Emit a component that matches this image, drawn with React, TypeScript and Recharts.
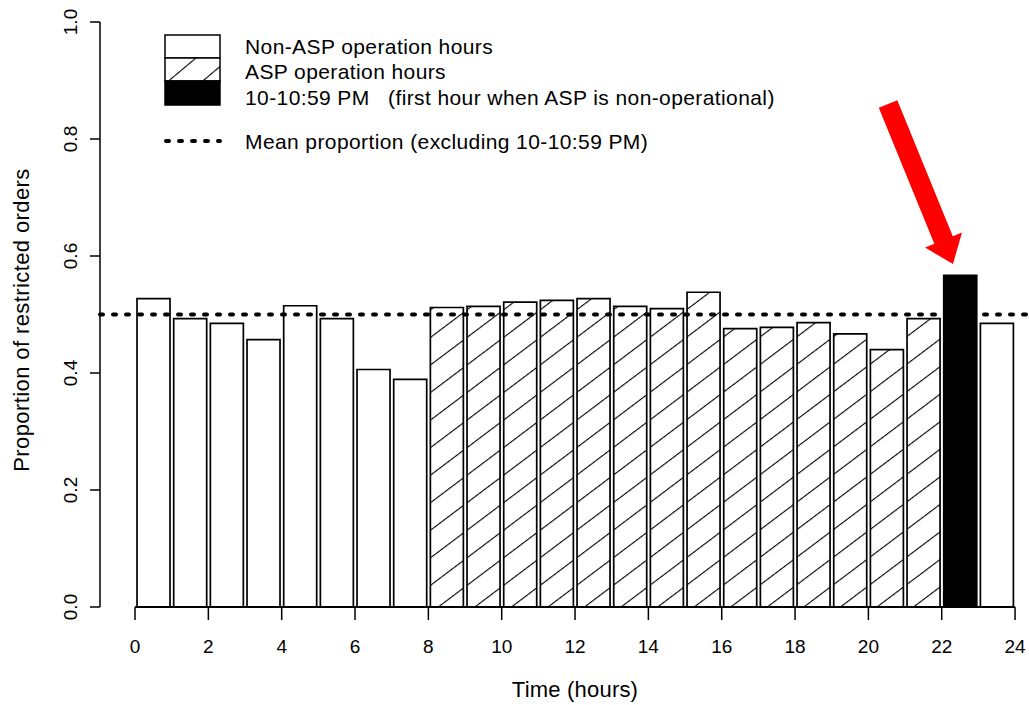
import {
  Bar,
  BarChart,
  Cell,
  Customized,
  ReferenceLine,
  XAxis,
  YAxis,
} from "recharts"

// hour of day (bar covers hour .. hour+1)
const hours = [0, 1, 2, 3, 4, 5, 6, 7, 8, 9, 10, 11, 12, 13, 14, 15, 16, 17, 18, 19, 20, 21, 22, 23]

const proportions = [
  0.527, 0.493, 0.485, 0.457, 0.515, 0.493, 0.406, 0.389,
  0.512, 0.514, 0.521, 0.524, 0.527, 0.514, 0.51, 0.538,
  0.476, 0.478, 0.486, 0.467, 0.44, 0.493, 0.567, 0.485,
]

// "off" = Non-ASP hours, "asp" = ASP operation hours, "first" = 10-10:59 PM
const hourTypes = [
  "off", "off", "off", "off", "off", "off", "off", "off",
  "asp", "asp", "asp", "asp", "asp", "asp", "asp", "asp",
  "asp", "asp", "asp", "asp", "asp", "asp", "first", "off",
]

const meanProportion = 0.5

const xTicks = [0, 2, 4, 6, 8, 10, 12, 14, 16, 18, 20, 22, 24]
const yTicks = [0, 0.2, 0.4, 0.6, 0.8, 1]

const legendLabels = [
  "Non-ASP operation hours",
  "ASP operation hours",
  "10-10:59 PM",
  "(first hour when ASP is non-operational)",
  "Mean proportion (excluding 10-10:59 PM)",
]

const FONT = "'Liberation Sans', Arial, sans-serif"

const data = hours.map((h, i) => ({
  mid: h + 0.5,
  value: proportions[i],
  type: hourTypes[i],
}))

const fillFor = (t: string) => (t === "asp" ? "url(#hatch)" : t === "first" ? "#000" : "#fff")

function XTick({ x, y, payload }: any) {
  return (
    <text x={x} y={y + 31} textAnchor="middle" fontSize={19} fontFamily={FONT} fill="#000">
      {payload.value}
    </text>
  )
}

function YTick({ y, payload }: any) {
  return (
    <text
      x={77}
      y={y}
      transform={`rotate(-90, 77, ${y})`}
      textAnchor="middle"
      fontSize={19}
      fontFamily={FONT}
      fill="#000"
    >
      {payload.value.toFixed(1)}
    </text>
  )
}

function Annotations() {
  return (
    <g>
      {/* legend */}
      <g transform="translate(160, 30)">
        <rect x={5} y={5} width={55} height={23} fill="#fff" stroke="#000" strokeWidth={1.5} />
        <rect x={5} y={28} width={55} height={23} fill="url(#hatchLegend)" stroke="#000" strokeWidth={1.5} />
        <rect x={5} y={51} width={55} height={24} fill="#000" stroke="#000" strokeWidth={1.5} />
        <g fontFamily={FONT} fontSize={21} letterSpacing={0.4} fill="#000">
          <text x={85} y={24}>{legendLabels[0]}</text>
          <text x={85} y={49}>{legendLabels[1]}</text>
          <text x={85} y={75}>{legendLabels[2]}</text>
          <text x={228} y={75}>{legendLabels[3]}</text>
          <text x={85} y={119}>{legendLabels[4]}</text>
        </g>
        <line x1={6} y1={111} x2={60} y2={111} stroke="#000" strokeWidth={4} strokeDasharray="3 10" strokeLinecap="round" />
      </g>
      <text x={575} y={697} textAnchor="middle" fontSize={22} letterSpacing={0.2} fontFamily={FONT} fill="#000">
        Time (hours)
      </text>
      <text
        x={29}
        y={320}
        transform="rotate(-90, 29, 320)"
        textAnchor="middle"
        fontSize={22}
        letterSpacing={0.4}
        fontFamily={FONT}
        fill="#000"
      >
        Proportion of restricted orders
      </text>
      {/* red arrow pointing at the 10-10:59 PM bar */}
      <polygon
        points="878.8,107.8 897.3,100.2 952.8,236.2 962,232.4 953,264 925,247.6 934.3,243.8"
        fill="#ff0000"
      />
    </g>
  )
}

export default function App() {
  return (
    <div style={{ position: "absolute", left: 0, top: 0, width: 1029, height: 705, background: "#fff" }}>
      <BarChart width={1029} height={705} data={data} margin={{ top: 22, right: 0, bottom: 0, left: 0 }}>
        <defs>
          <pattern id="hatch" patternUnits="userSpaceOnUse" width={22} height={22} patternTransform="rotate(-37)">
            <rect width={22} height={22} fill="#fff" />
            <path d="M0 0 H22" stroke="#000" strokeWidth={2.2} />
          </pattern>
          <pattern id="hatchLegend" patternUnits="userSpaceOnUse" width={22} height={22} patternTransform="rotate(-40)">
            <rect width={22} height={22} fill="#fff" />
            <path d="M0 0 H22" stroke="#000" strokeWidth={2.2} />
          </pattern>
        </defs>
        <XAxis
          type="number"
          dataKey="mid"
          domain={[-0.955, 24.38]}
          ticks={xTicks}
          allowDataOverflow
          axisLine={false}
          tickSize={13}
          tickLine={{ stroke: "#000", strokeWidth: 1.5 }}
          tick={<XTick />}
          height={98}
        />
        <YAxis
          domain={[0, 1]}
          ticks={yTicks}
          width={100}
          axisLine={{ stroke: "#000", strokeWidth: 1.5 }}
          tickSize={10}
          tickLine={{ stroke: "#000", strokeWidth: 1.5 }}
          tick={<YTick />}
        />
        <Bar dataKey="value" barSize={36.67} stroke="#000" strokeWidth={1.7} isAnimationActive={false}>
          {data.map((d, i) => (
            <Cell key={`cell-${i}`} fill={fillFor(d.type)} />
          ))}
        </Bar>
        <ReferenceLine
          segment={[
            { x: 0, y: 0 },
            { x: 24, y: 0 },
          ]}
          stroke="#000"
          strokeWidth={2}
        />
        <ReferenceLine
          y={meanProportion}
          stroke="#000"
          strokeWidth={4}
          strokeDasharray="3 10"
          strokeLinecap="round"
        />
        <Customized component={Annotations} />
      </BarChart>
    </div>
  )
}
